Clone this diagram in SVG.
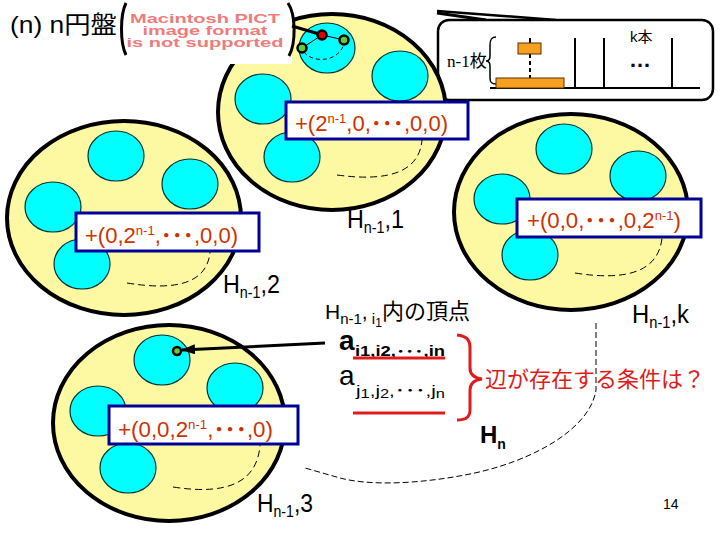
<svg xmlns="http://www.w3.org/2000/svg" width="720" height="540" viewBox="0 0 720 540">
<style>
.big{fill:#FDF9A3;stroke:#000;stroke-width:4}
.sm{fill:#00FFFF;stroke:#003333;stroke-width:1.2}
.arc{fill:none;stroke:#000;stroke-width:1;stroke-dasharray:7 4}
.box{fill:#fff;stroke:#000099;stroke-width:3}
.bt{font-family:"Liberation Sans","Noto Sans CJK JP",sans-serif;font-size:22px;fill:#CC3300}
.lab{font-family:"Liberation Sans","Noto Sans CJK JP",sans-serif;font-size:26px;fill:#000}
.jp{font-family:"Liberation Sans","Noto Sans CJK JP",sans-serif;fill:#000}
.red{fill:none;stroke:#E01B1B;stroke-width:3}
.dot{stroke:#000;stroke-width:2.5}
.pict{font-family:"Liberation Sans",sans-serif;font-weight:bold;font-size:12.5px;fill:#EE7C7C}
</style>
<defs>
<marker id="ah" markerUnits="userSpaceOnUse" markerWidth="14" markerHeight="10" refX="13" refY="5" orient="auto">
<path d="M0,0 L14,5 L0,10 z" fill="#000"/>
</marker>
</defs>
<rect width="720" height="540" fill="#fff"/>

<g id="title">
<text class="jp" x="10" y="33" font-size="24" textLength="107" lengthAdjust="spacingAndGlyphs">(n) n円盤</text>
</g>

<g id="hanoi-callout">
<line x1="437" y1="11" x2="556" y2="20" stroke="#000" stroke-width="2.5"/>
<line x1="437" y1="13" x2="486" y2="20" stroke="#000" stroke-width="3"/>
<rect x="438" y="20" width="275" height="80" rx="11" fill="#fff" stroke="#000" stroke-width="2.5"/>
<text x="447" y="67" font-size="17" font-family="Liberation Serif,Noto Sans CJK JP,serif" textLength="40" lengthAdjust="spacingAndGlyphs">n-1枚</text>
<path d="M496,37 C491,37 490,40 490,45 L490,56 C490,60 488,61 486,61 C488,61 490,62 490,66 L490,78 C490,83 492,84 496,84" fill="none" stroke="#000" stroke-width="1.5"/>
<line x1="490" y1="88" x2="700" y2="88" stroke="#000" stroke-width="2"/>
<line x1="530" y1="38" x2="530" y2="44" stroke="#000" stroke-width="2"/>
<line x1="530" y1="54" x2="530" y2="78" stroke="#000" stroke-width="2" stroke-dasharray="4 3"/>
<line x1="575" y1="38" x2="575" y2="88" stroke="#000" stroke-width="2"/>
<line x1="604" y1="38" x2="604" y2="88" stroke="#000" stroke-width="2"/>
<line x1="672" y1="38" x2="672" y2="88" stroke="#000" stroke-width="2"/>
<rect x="518" y="43" width="23" height="11" fill="#F5A020" stroke="#5a3000" stroke-width="1"/>
<rect x="496" y="78" width="68" height="10" fill="#F5A020" stroke="#5a3000" stroke-width="1"/>
<text class="jp" x="630" y="42" font-size="15">k本</text>
<text class="jp" x="629" y="67" font-size="22" font-weight="bold">…</text>
</g>

<g id="H1">
<ellipse class="big" cx="332" cy="112" rx="114" ry="98"/>
<ellipse class="sm" cx="327" cy="48" rx="28" ry="25"/>
<ellipse class="sm" cx="400" cy="76" rx="28" ry="25"/>
<ellipse class="sm" cx="263" cy="99" rx="28" ry="25"/>
<ellipse class="sm" cx="292" cy="157" rx="28" ry="25"/>
<path class="arc" d="M337,175 Q418,186 422,140"/>
<line x1="302" y1="48" x2="322" y2="35" stroke="#000" stroke-width="1"/>
<line x1="322" y1="35" x2="344" y2="40" stroke="#000" stroke-width="1"/>
<path d="M304,52 C312,63 338,63 344,44" fill="none" stroke="#000" stroke-width="1" stroke-dasharray="4 3"/>
<circle class="dot" cx="322" cy="35" r="4.5" fill="#DD0000"/>
<circle class="dot" cx="344" cy="40" r="4.5" fill="#66CC33"/>
<circle class="dot" cx="302" cy="48" r="4.5" fill="#66CC33"/>
<rect class="box" x="286" y="102" width="182" height="37"/>
<text class="bt" x="295" y="131" textLength="153" lengthAdjust="spacingAndGlyphs">+(2<tspan font-size="13" dy="-8">n-1</tspan><tspan dy="8">,0,<tspan font-weight="bold">･･･</tspan>,0,0)</tspan></text>
<text class="lab" x="347" y="228" textLength="57" lengthAdjust="spacingAndGlyphs">H<tspan font-size="16" dy="5">n-1</tspan><tspan dy="-5">,1</tspan></text>
</g>

<g id="pict">
<rect x="118" y="0" width="174" height="64" fill="#fff"/>
<path d="M126,3 C120,15 120,43 126,55" fill="none" stroke="#000" stroke-width="3"/>
<path d="M288,3 C296,15 296,43 289,56" fill="none" stroke="#000" stroke-width="3"/>
<text class="pict" x="205" y="23" text-anchor="middle" textLength="150" lengthAdjust="spacingAndGlyphs">Macintosh PICT</text>
<text class="pict" x="205" y="35" text-anchor="middle" textLength="125" lengthAdjust="spacingAndGlyphs">image format</text>
<text class="pict" x="205" y="47" text-anchor="middle" textLength="157" lengthAdjust="spacingAndGlyphs">is not supported</text>
<line x1="292" y1="26" x2="319" y2="34" stroke="#000" stroke-width="3"/>
</g>

<g id="H2">
<ellipse class="big" cx="124" cy="218" rx="117" ry="97"/>
<ellipse class="sm" cx="116" cy="156" rx="28" ry="25"/>
<ellipse class="sm" cx="190" cy="184" rx="28" ry="25"/>
<ellipse class="sm" cx="53" cy="207" rx="28" ry="25"/>
<ellipse class="sm" cx="82" cy="264" rx="28" ry="25"/>
<path class="arc" d="M127,283 Q206,296 210,252"/>
<rect class="box" x="76" y="213" width="183" height="38"/>
<text class="bt" x="85" y="243" textLength="153" lengthAdjust="spacingAndGlyphs">+(0,2<tspan font-size="13" dy="-8">n-1</tspan><tspan dy="8">,<tspan font-weight="bold">･･･</tspan>,0,0)</tspan></text>
<text class="lab" x="223" y="293" textLength="57" lengthAdjust="spacingAndGlyphs">H<tspan font-size="16" dy="5">n-1</tspan><tspan dy="-5">,2</tspan></text>
</g>

<g id="Hk">
<ellipse class="big" cx="571" cy="212" rx="117" ry="98"/>
<ellipse class="sm" cx="564" cy="149" rx="28" ry="25"/>
<ellipse class="sm" cx="638" cy="176" rx="28" ry="25"/>
<ellipse class="sm" cx="502" cy="199" rx="28" ry="25"/>
<ellipse class="sm" cx="530" cy="255" rx="28" ry="25"/>
<path class="arc" d="M575,273 Q657,286 662,238"/>
<rect class="box" x="517" y="199" width="184" height="38"/>
<text class="bt" x="527" y="228" textLength="154" lengthAdjust="spacingAndGlyphs">+(0,0,<tspan font-weight="bold">･･･</tspan>,0,2<tspan font-size="13" dy="-8">n-1</tspan><tspan dy="8">)</tspan></text>
<text class="lab" x="632" y="323" textLength="57" lengthAdjust="spacingAndGlyphs">H<tspan font-size="16" dy="5">n-1</tspan><tspan dy="-5">,k</tspan></text>
</g>

<g id="H3">
<ellipse class="big" cx="169" cy="423" rx="116" ry="98"/>
<ellipse class="sm" cx="162" cy="360" rx="28" ry="25"/>
<ellipse class="sm" cx="235" cy="388" rx="28" ry="25"/>
<ellipse class="sm" cx="98" cy="411" rx="28" ry="25"/>
<ellipse class="sm" cx="128" cy="468" rx="28" ry="25"/>
<path class="arc" d="M173,487 Q256,500 260,445"/>
<circle class="dot" cx="177" cy="351" r="4" fill="#66CC33"/>
<rect class="box" x="109" y="406" width="189" height="38"/>
<text class="bt" x="118" y="437" textLength="155" lengthAdjust="spacingAndGlyphs">+(0,0,2<tspan font-size="13" dy="-8">n-1</tspan><tspan dy="8">,<tspan font-weight="bold">･･･</tspan>,0)</tspan></text>
<text class="lab" x="257" y="512" textLength="56" lengthAdjust="spacingAndGlyphs">H<tspan font-size="16" dy="5">n-1</tspan><tspan dy="-5">,3</tspan></text>
</g>

<g id="Hn">
<path d="M596,323 L596,390 C590,430 530,462 470,474 C420,484 370,486 340,478 L305,468" fill="none" stroke="#000" stroke-width="1" stroke-dasharray="6 3"/>
<text class="jp" x="480" y="443" font-size="24" font-weight="bold">H<tspan font-size="14" dy="6">n</tspan></text>
</g>

<g id="vertices">
<text class="jp" x="325" y="319" font-size="21">H<tspan font-size="15" dy="5">n-1</tspan><tspan dy="-5">,</tspan><tspan font-size="15" dy="5"> i</tspan><tspan font-size="12" dy="3">1</tspan><tspan font-size="22" dy="-8">内の頂点</tspan></text>
<text class="jp" x="339" y="350" font-size="28" font-weight="bold">a</text>
<text class="jp" x="355" y="356" font-size="14" font-weight="bold" textLength="90" lengthAdjust="spacingAndGlyphs">i1,i2,･･･,in</text>
<text class="jp" x="339" y="385" font-size="28">a</text>
<text class="jp" x="356" y="396" font-size="15" textLength="89" lengthAdjust="spacingAndGlyphs">j<tspan font-size="12" dy="2">1</tspan><tspan dy="-2">,j</tspan><tspan font-size="12" dy="2">2</tspan><tspan dy="-2">,･･･,j</tspan><tspan font-size="12" dy="2">n</tspan></text>
<line class="red" x1="353" y1="358" x2="445" y2="358"/>
<line class="red" x1="353" y1="413" x2="445" y2="413"/>
<path class="red" d="M457,335 C467,336 470,340 470,348 L470,368 C470,374 474,378 482,379 C474,380 470,384 470,390 L470,410 C470,417 466,420 457,420"/>
<text x="485" y="387" font-size="22" fill="#E01B1B" font-family="Liberation Sans,Noto Sans CJK JP,sans-serif">辺が存在する条件は？</text>
</g>

<g id="connectors">
<line x1="325" y1="343" x2="182" y2="350" stroke="#000" stroke-width="3" marker-end="url(#ah)"/>
</g>

<text x="663" y="509" font-size="14" font-family="Liberation Sans,sans-serif">14</text>
</svg>
